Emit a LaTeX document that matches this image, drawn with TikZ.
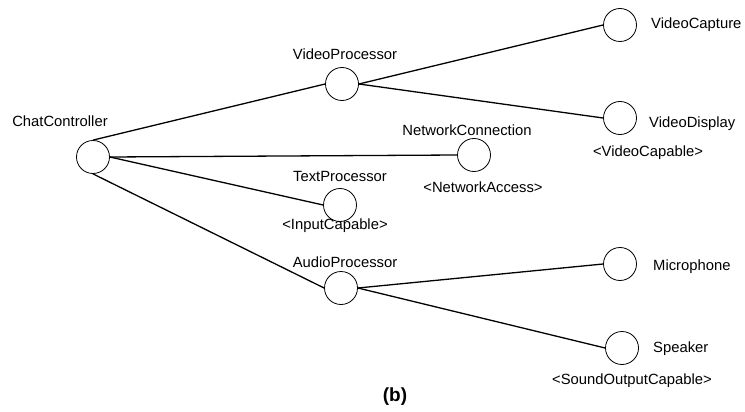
\documentclass[tikz,border=0pt]{standalone}
\usepackage{fontspec}
\setmainfont{Liberation Sans}
\usepackage{tikz}

\tikzset{
  comp/.style={draw,circle,line width=0.8pt,minimum size=33pt,inner sep=0pt},
  lbl/.style={inner sep=0pt,font=\fontsize{14.8}{16}\selectfont},
  conn/.style={line width=1.3pt}
}

\begin{document}
\begin{tikzpicture}[x=1pt,y=-1pt]
  \useasboundingbox (0,0) rectangle (745,412);
  % components
  \node[comp] (chat)  at (93,157)  {};
  \node[comp] (vproc) at (342,84)  {};
  \node[comp] (vcap)  at (620,25)  {};
  \node[comp] (vdisp) at (620,118) {};
  \node[comp] (net)   at (474,155) {};
  \node[comp] (tproc) at (340,205) {};
  \node[comp] (aproc) at (341,288) {};
  \node[comp] (mic)   at (620,264) {};
  \node[comp] (spk)   at (622,348) {};
  % connections
  \draw[conn] (chat.north) -- (vproc.west);
  \draw[conn] (chat.east) -- (net.west);
  \draw[conn] (chat.east) -- (tproc.west);
  \draw[conn] (chat.south) -- (aproc.west);
  \draw[conn] (vproc.east) -- (vcap.west);
  \draw[conn] (vproc.east) -- (vdisp.west);
  \draw[conn] (aproc.east) -- (mic.west);
  \draw[conn] (aproc.east) -- (spk.west);
  % names
  \node[lbl] (chatname)  at (60,121)  {ChatController};
  \node[lbl] (vprocname) at (345,54)  {VideoProcessor};
  \node[lbl,anchor=west] (vcapname)  at (651,25)  {VideoCapture};
  \node[lbl,anchor=west] (vdispname) at (649,124) {VideoDisplay};
  \node[lbl] (vdispif)   at (648,153) {<VideoCapable>};
  \node[lbl] (netname)   at (467,130) {NetworkConnection};
  \node[lbl] (netif)     at (483,187) {<NetworkAccess>};
  \node[lbl] (tprocname) at (340,176) {TextProcessor};
  \node[lbl] (tprocif)   at (335,226) {<InputCapable>};
  \node[lbl] (aprocname) at (345,262) {AudioProcessor};
  \node[lbl,anchor=west] (micname) at (653,267) {Microphone};
  \node[lbl,anchor=west] (spkname) at (653,349) {Speaker};
  \node[lbl] (spkif)     at (632,381) {<SoundOutputCapable>};
  \node[lbl,font=\fontsize{19}{21}\selectfont\bfseries] (caption) at (395,397) {(b)};
\end{tikzpicture}
\end{document}
